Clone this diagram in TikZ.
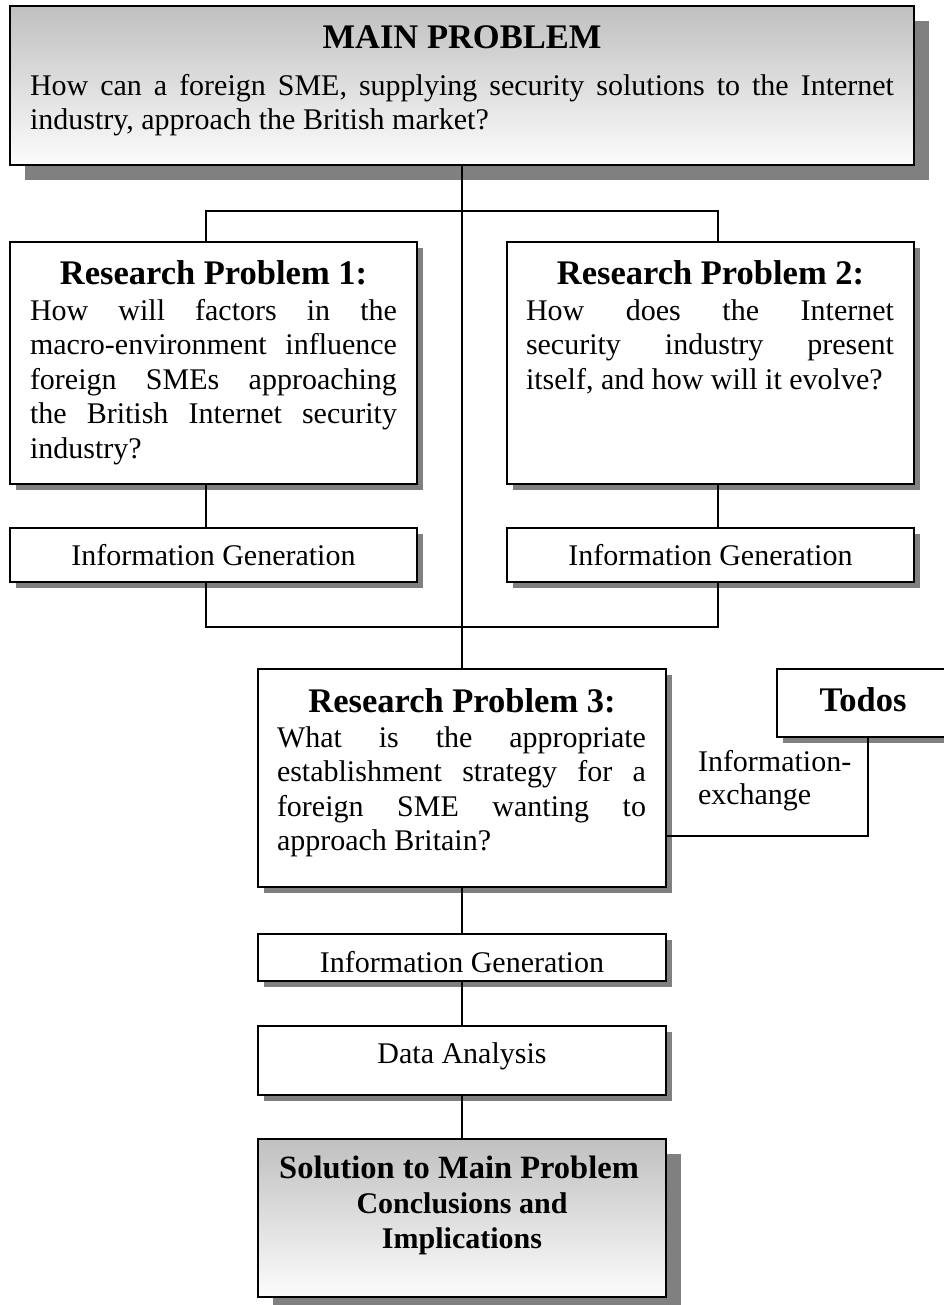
\documentclass[tikz,border=0pt]{standalone}
\usepackage{fontspec}
\setmainfont{Liberation Serif}
\usetikzlibrary{shadows}

\definecolor{shadowgray}{RGB}{128,128,128}
\definecolor{shadetop}{RGB}{192,192,192}
\definecolor{shadebot}{RGB}{252,252,252}

\tikzset{
  box/.style={draw=black, line width=1.6pt, fill=white, inner sep=0pt, outer sep=0pt, anchor=north west},
  smallshadow/.style={drop shadow={shadow xshift=6pt, shadow yshift=-6pt, fill=shadowgray, opacity=1}},
  bigshadow/.style={drop shadow={shadow xshift=15pt, shadow yshift=-15pt, fill=shadowgray, opacity=1}},
  graded/.style={top color=shadetop, bottom color=shadebot},
  link/.style={line width=1.6pt, line cap=rect},
  txt/.style={inner sep=0pt, outer sep=0pt},
  body/.style={txt, font=\fontsize{30}{34.5}\selectfont},
  head/.style={txt, font=\fontsize{34.5}{40}\selectfont\bfseries},
  para/.style={body, anchor=base west, align=justify},
}

\begin{document}
\begin{tikzpicture}[x=1pt, y=-1pt]
\useasboundingbox (0,0) rectangle (943,1305);
\fill[white] (0,0) rectangle (943,1305);

% main problem
\node[box, bigshadow, graded, minimum width=904pt, minimum height=159pt] (main) at (10,6) {};
\node[head, anchor=base] (mainh) at (462,49) {MAIN PROBLEM};
\node[para, text width=864pt, font=\fontsize{30}{33.5}\selectfont] (mainb) at (30,96)
  {\makebox[\linewidth][s]{How can a foreign SME, supplying security solutions to the Internet}\newline
   industry, approach the British market?};

% research problems 1 and 2
\node[box, smallshadow, minimum width=407pt, minimum height=242pt] (rp1) at (10,242) {};
\node[head, anchor=base] (rp1h) at (213.5,285) {Research Problem 1:};
\node[para, text width=367pt] (rp1b) at (30,320)
  {\makebox[\linewidth][s]{How will factors in the}\newline
   \makebox[\linewidth][s]{macro-environment influence}\newline
   \makebox[\linewidth][s]{foreign SMEs approaching}\newline
   \makebox[\linewidth][s]{the British Internet security}\newline
   industry?};

\node[box, smallshadow, minimum width=407pt, minimum height=242pt] (rp2) at (507,242) {};
\node[head, anchor=base] (rp2h) at (710.5,285) {Research Problem 2:};
\node[para, text width=368pt] (rp2b) at (526,320)
  {\makebox[\linewidth][s]{How does the Internet}\newline
   \makebox[\linewidth][s]{security industry present}\newline
   itself, and how will it evolve?};

% information generation for 1 and 2
\node[box, smallshadow, minimum width=407pt, minimum height=54pt] (ig1) at (10,528) {};
\node[body, anchor=base] (ig1t) at (213.5,565) {Information Generation};
\node[box, smallshadow, minimum width=407pt, minimum height=54pt] (ig2) at (507,528) {};
\node[body, anchor=base] (ig2t) at (710.5,565) {Information Generation};

% research problem 3
\node[box, smallshadow, minimum width=408pt, minimum height=218pt] (rp3) at (258,669) {};
\node[head, anchor=base] (rp3h) at (462,712) {Research Problem 3:};
\node[para, text width=369pt] (rp3b) at (277,747)
  {\makebox[\linewidth][s]{What is the appropriate}\newline
   \makebox[\linewidth][s]{establishment strategy for a}\newline
   \makebox[\linewidth][s]{foreign SME wanting to}\newline
   approach Britain?};

% Todos
\node[box, smallshadow, minimum width=190pt, minimum height=68pt] (todos) at (777,669) {};
\node[head, anchor=base] (todost) at (863,711) {Todos};
\node[para, text width=160pt, font=\fontsize{30}{33.5}\selectfont] (xch) at (698,771) {Information-\newline exchange};

% analysis chain
\node[box, smallshadow, minimum width=408pt, minimum height=47pt] (ig3) at (258,934) {};
\node[body, anchor=base] (ig3t) at (462,972) {Information Generation};
\node[box, smallshadow, minimum width=408pt, minimum height=69pt] (da) at (258,1026) {};
\node[body, anchor=base] (dat) at (462,1063) {Data Analysis};

% solution
\node[box, bigshadow, graded, minimum width=408pt, minimum height=158pt] (sol) at (258,1139) {};
\node[txt, anchor=base, font=\fontsize{32.5}{38}\selectfont\bfseries] (solh) at (459,1178) {Solution to Main Problem};
\node[txt, anchor=base, font=\fontsize{30}{35}\selectfont\bfseries] (sol1) at (462,1213) {Conclusions and};
\node[txt, anchor=base, font=\fontsize{30}{35}\selectfont\bfseries] (sol2) at (462,1248) {Implications};

% connectors
\coordinate (b1) at (206,211);
\coordinate (b2) at (718,211);
\coordinate (m1) at (206,627);
\coordinate (m2) at (718,627);
\coordinate (x1) at (868,836);

\draw[link] (main.south) -- (rp3.north);
\draw[link] (b1 |- rp1.north) -- (b1) -- (b2) -- (b2 |- rp2.north);
\draw[link] (b1 |- rp1.south) -- (b1 |- ig1.north);
\draw[link] (b2 |- rp2.south) -- (b2 |- ig2.north);
\draw[link] (b1 |- ig1.south) -- (m1) -- (m2) -- (b2 |- ig2.south);
\draw[link] (x1 |- todos.south) -- (x1) -- (x1 -| rp3.east);
\draw[link] (rp3.south) -- (ig3.north);
\draw[link] (ig3.south) -- (da.north);
\draw[link] (da.south) -- (sol.north);
\end{tikzpicture}
\end{document}
